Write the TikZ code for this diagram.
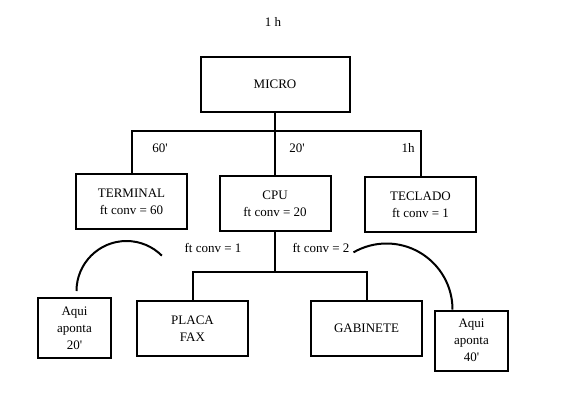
\documentclass[tikz,border=0pt]{standalone}
\usepackage{fontspec}
\setmainfont{Liberation Serif}[Ligatures=TeXOff]
\begin{document}
\begin{tikzpicture}[x=1pt, y=-1pt, line width=2pt,
    caixa/.style={draw, rectangle, align=center, minimum width=111pt, minimum height=55pt, inner sep=2pt, font=\fontsize{13}{17}\selectfont},
    nota/.style={caixa, minimum width=73pt, minimum height=60pt},
    rotulo/.style={font=\fontsize{13}{17}\selectfont, inner sep=1pt}]
\useasboundingbox (0,0) rectangle (570,408);

% top label
\node[rotulo] (tempo) at (273,22) {1 h};

% level 0
\node[caixa, minimum width=149pt] (micro) at (275,84.5) {MICRO};

% level 1
\node[caixa] (terminal) at (131.5,201.5) {TERMINAL\\ft conv = 60};
\node[caixa] (cpu) at (275,203.5) {CPU\\ft conv = 20};
\node[caixa] (teclado) at (420.5,204.5) {TECLADO\\ft conv = 1};

\coordinate (bus1) at (275,131);
\draw (micro) -- (bus1);
\draw (bus1) -| (terminal);
\draw (bus1) -- (cpu);
\draw (bus1) -| (teclado);

\node[rotulo] (t60) at (160,148) {60'};
\node[rotulo] (t20) at (297,148) {20'};
\node[rotulo] (t1h) at (408,148) {1h};

% level 2
\node[caixa] (placa) at (192.5,328.5) {PLACA\\FAX};
\node[caixa] (gabinete) at (366.5,328.5) {GABINETE};

\coordinate (bus2) at (275,272);
\draw (cpu) -- (bus2);
\draw (bus2) -| (placa);
\draw (bus2) -| (gabinete);

\node[rotulo] (conv1) at (213,248) {ft conv = 1};
\node[rotulo] (conv2) at (321,248) {ft conv = 2};

% notes
\node[nota] (aqui1) at (74.5,328) {Aqui\\aponta\\20'};
\node[nota] (aqui2) at (471.5,340.5) {Aqui\\aponta\\40'};

\draw ([xshift=2pt,yshift=6pt]aqui1.north) arc[start angle=180, end angle=315, radius=50] coordinate (ponta1);
\draw ([xshift=-19pt]aqui2.north) arc[start angle=0, end angle=-120, radius=66] coordinate (ponta2);

\end{tikzpicture}
\end{document}
